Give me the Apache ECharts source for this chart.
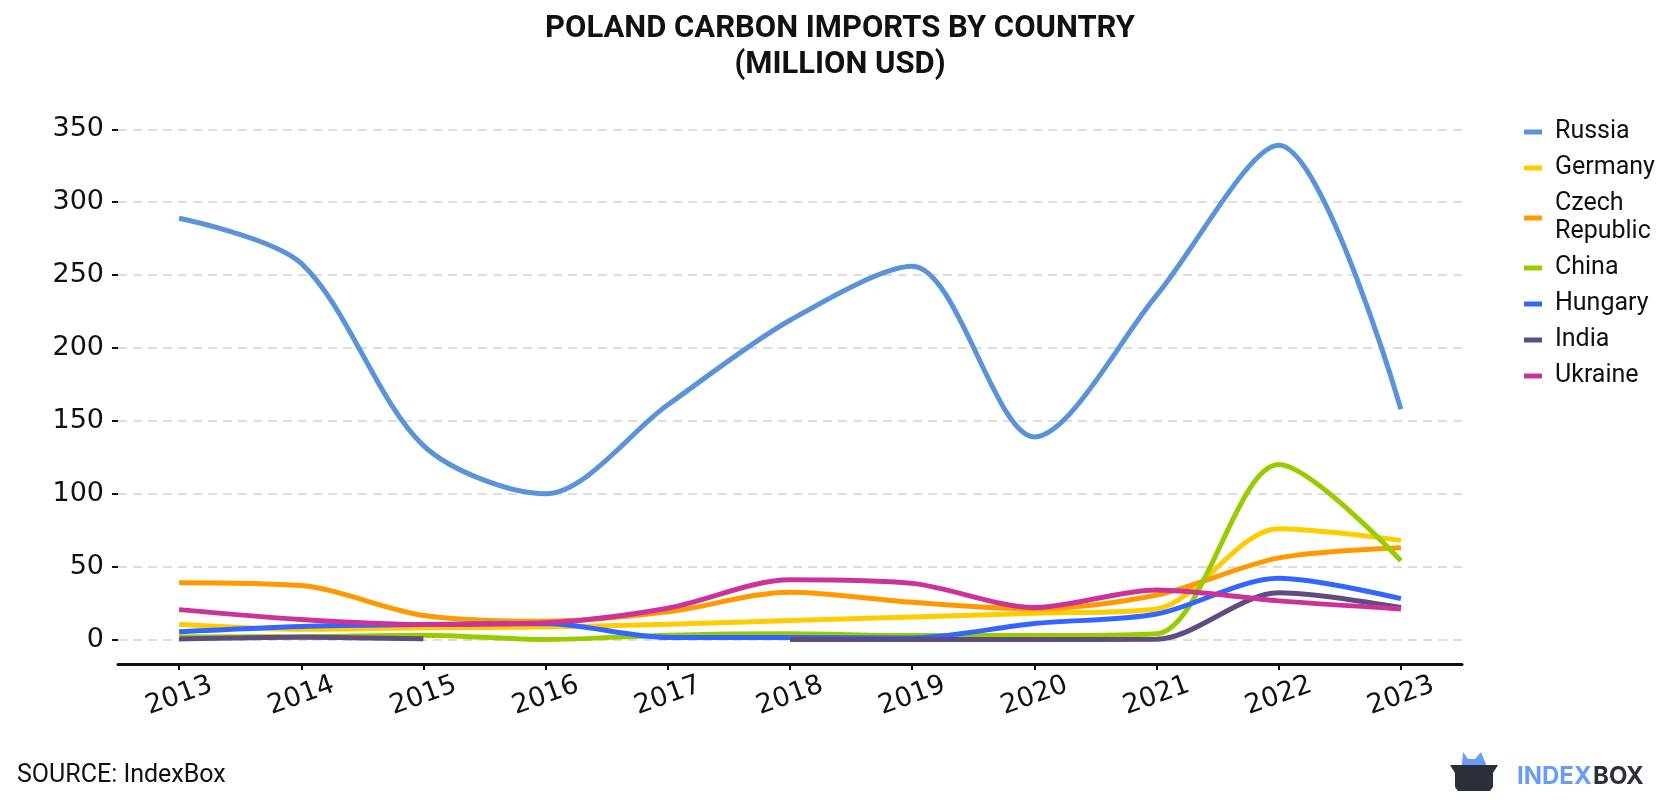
<!DOCTYPE html>
<html><head><meta charset="utf-8">
<script src="https://cdn.jsdelivr.net/npm/echarts@6/dist/echarts.min.js"></script>
<style>html,body{margin:0;padding:0;background:#fff}#c{width:1680px;height:800px}</style>
</head><body><div id="c"></div>
<script>
const years = ['2013','2014','2015','2016','2017','2018','2019','2020','2021','2022','2023'];
const russia  = [289, 258, 133, 100, 161, 219, 256, 139, 236, 339, 158];
const germany = [10.5, 7, 8, 8.5, 10.5, 13, 15.5, 18, 21, 76, 68];
const czech   = [39, 37, 16.5, 12.5, 19, 32.5, 25.5, 21, 30.5, 56, 63];
const china   = [1.8, 2, 3, 0, 3, 4, 2.7, 2.7, 3.9, 120, 54];
const hungary = [5.3, 9, 10.3, 11, 1.4, 1.4, 1.1, 11, 17.5, 42, 28];
const india   = [0.4, 1.6, 0.5, null, null, 0, 0, 0, 0.2, 32, 22];
const ukraine = [20.5, 13.7, 10.3, 11.5, 21.5, 41, 38.5, 22, 34, 26.5, 21];
const yTicks  = [0, 50, 100, 150, 200, 250, 300, 350];

const seriesDefs = [
  ['Russia', russia, '#5a93d8'],
  ['Germany', germany, '#ffcc00'],
  ['Czech Republic', czech, '#ff9900'],
  ['China', china, '#99cc00'],
  ['Hungary', hungary, '#3366ff'],
  ['India', india, '#604c80'],
  ['Ukraine', ukraine, '#cc3399']
];

const chart = echarts.init(document.getElementById('c'), null, {renderer: 'canvas'});
chart.setOption({
  animation: false,
  backgroundColor: '#ffffff',
  title: {
    text: 'POLAND CARBON IMPORTS BY COUNTRY\n(MILLION USD)',
    left: 'center', top: 6,
    textStyle: {fontFamily: 'Roboto', fontWeight: 'bold', fontSize: 31, lineHeight: 36, color: '#111'}
  },
  legend: {
    orient: 'vertical', left: 1519, top: 113,
    icon: 'rect', itemWidth: 18, itemHeight: 5, itemGap: 8,
    data: seriesDefs.map(s => s[0]),
    formatter: n => n === 'Czech Republic' ? 'Czech\nRepublic' : n,
    textStyle: {fontFamily: 'Roboto', fontSize: 25, lineHeight: 28, color: '#111', padding: [0, 0, 0, 8]}
  },
  grid: {left: 118, right: 218, top: 122, bottom: 136},
  xAxis: {
    type: 'category', data: years, boundaryGap: true,
    axisLine: {show: true, onZero: false, lineStyle: {color: '#111', width: 3}},
    axisTick: {show: true, alignWithLabel: true, length: 6, lineStyle: {color: '#111', width: 2}},
    axisLabel: {rotate: 20, align: 'center', verticalAlign: 'middle', margin: 32,
      fontFamily: 'DejaVu Sans', fontSize: 27, color: '#111'},
    splitLine: {show: false}
  },
  yAxis: {
    type: 'value', min: -16.8, max: 355,
    axisLine: {show: false},
    axisTick: {show: true, length: 6, customValues: yTicks, lineStyle: {color: '#111', width: 2}},
    axisLabel: {customValues: yTicks, margin: 14, fontFamily: 'DejaVu Sans', fontSize: 27, color: '#111'},
    splitLine: {show: true, lineStyle: {color: '#dddddd', width: 2, type: [9, 6]}}
  },
  series: seriesDefs.map(([name, data, color]) => ({
    name, type: 'line', data, smooth: 0.3, symbol: 'none', connectNulls: false,
    lineStyle: {color, width: 5}, itemStyle: {color}
  })),
  graphic: [
    {type: 'text', left: 17, top: 763, style: {text: 'SOURCE: IndexBox', fontFamily: 'Roboto', fontSize: 25, fill: '#111'}},
    {type: 'polygon', shape: {points: [[1462,764],[1463,752],[1468,759],[1475,759],[1481,752],[1486,764],[1486,774],[1462,774]]}, style: {fill: '#6a9cf5'}},
    {type: 'polygon', shape: {points: [[1450,765],[1498,765],[1493,773],[1493,787],[1490,791],[1458,791],[1455,787],[1455,773]]}, style: {fill: '#2c2e3a'}},
    {type: 'text', left: 1517, top: 765, style: {text: 'INDEX', fontFamily: 'Inter', fontWeight: 'bold', fontSize: 24, fill: '#6a9cf5'}},
    {type: 'text', left: 1593, top: 765, style: {text: 'BOX', fontFamily: 'Inter', fontWeight: 'bold', fontSize: 24, fill: '#2c2e3a'}}
  ]
});
</script></body></html>
